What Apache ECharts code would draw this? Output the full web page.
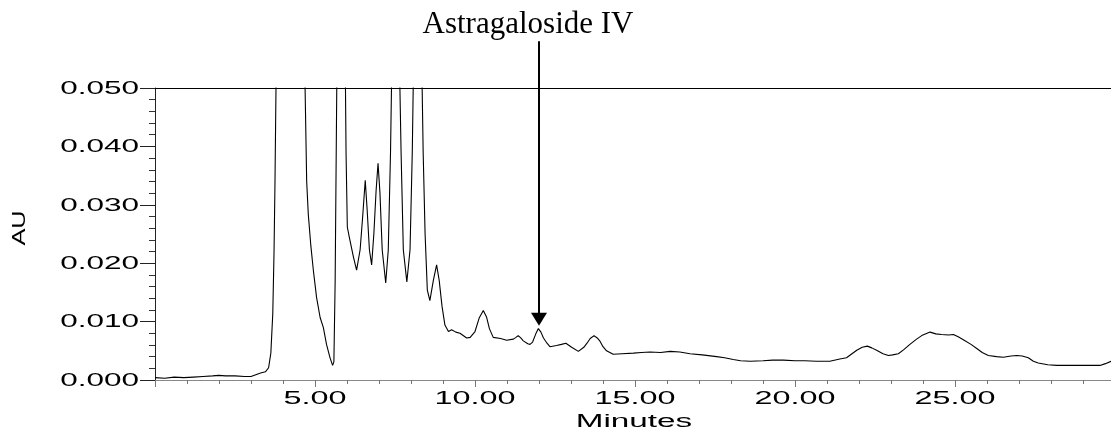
<!DOCTYPE html>
<html>
<head>
<meta charset="utf-8">
<script src="https://cdn.jsdelivr.net/npm/echarts@6/dist/echarts.min.js"></script>
<style>
html,body{margin:0;padding:0;background:#fff;}
#chart{width:1111px;height:435px;}
</style>
</head>
<body>
<div id="chart"></div>
<script>
// Retention time (minutes)
const times = [
0.00,0.30,0.60,0.90,1.20,1.50,1.80,2.00,2.20,2.50,2.80,3.00,3.15,3.30,3.45,3.55,3.62,3.68,3.72,3.75,3.78,3.85,4.20,4.60,
4.69,4.74,4.79,4.87,4.95,5.05,5.16,5.26,5.36,5.47,5.55,5.59,5.63,5.68,5.80,5.92,
5.97,6.01,6.07,6.20,6.30,6.41,6.49,6.57,6.63,6.70,6.77,6.84,6.91,6.97,7.03,7.10,7.21,7.29,7.36,7.50,7.62,
7.69,7.76,7.87,7.97,8.04,8.20,8.32,8.38,8.44,8.51,8.59,8.70,8.80,8.88,8.97,9.06,9.17,9.27,9.40,9.53,9.74,9.85,10.00,
10.13,10.26,10.36,10.45,10.57,10.80,10.99,11.20,11.28,11.35,11.43,11.51,11.65,11.72,11.80,11.90,11.98,12.06,12.14,12.25,12.34,12.55,12.70,12.84,13.02,13.23,13.40,13.50,13.60,13.72,13.82,13.91,14.00,
14.11,14.32,14.60,14.95,15.20,15.47,15.80,16.10,16.40,16.72,17.10,17.55,17.80,18.07,18.30,18.60,19.00,19.30,19.64,20.00,20.30,20.67,
21.09,21.40,21.61,21.93,22.10,22.26,22.40,22.55,22.75,22.92,23.05,23.23,23.40,23.59,23.80,23.96,24.22,24.40,24.58,24.80,24.95,
25.10,25.26,25.50,25.68,25.85,26.04,26.30,26.51,26.75,26.93,27.10,27.29,27.45,27.60,27.90,28.18,28.50,28.91,29.20,29.53,29.70,29.875
];
// Absorbance (AU)
const absorbance = [
0.0004,0.0003,0.0005,0.0004,0.0005,0.0006,0.0007,0.0008,0.0007,0.0007,0.0006,0.0006,0.0009,0.0012,0.0014,0.0021,0.0046,0.0113,0.0220,0.0340,0.0495,0.0900,0.1500,0.0900,
0.0500,0.0340,0.0284,0.0230,0.0187,0.0141,0.0107,0.0090,0.0061,0.0038,0.0025,0.0031,0.0170,0.0500,0.1200,0.0700,
0.0390,0.0262,0.0245,0.0211,0.0188,0.0223,0.0280,0.0342,0.0291,0.0223,0.0197,0.0251,0.0325,0.0371,0.0320,0.0223,0.0166,0.0223,0.0390,0.0900,0.0600,
0.0390,0.0223,0.0168,0.0223,0.0390,0.1000,0.0600,0.0390,0.0251,0.0154,0.0136,0.0171,0.0197,0.0171,0.0126,0.0094,0.0083,0.0086,0.0082,0.0080,0.0072,0.0073,0.0083,
0.0106,0.0119,0.0108,0.0088,0.0073,0.0071,0.0068,0.0070,0.0073,0.0076,0.0072,0.0067,0.0062,0.0061,0.0065,0.0079,0.0088,0.0082,0.0072,0.0063,0.0057,0.0059,0.0061,0.0063,0.0056,0.0049,0.0056,0.0063,0.0071,0.0076,0.0072,0.0066,0.0057,
0.0050,0.0044,0.0045,0.0046,0.0047,0.0048,0.0047,0.0049,0.0048,0.0045,0.0043,0.0040,0.0038,0.0035,0.0033,0.0032,0.0033,0.0034,0.0034,0.0033,0.0033,0.0032,
0.0032,0.0036,0.0038,0.0051,0.0056,0.0058,0.0055,0.0051,0.0045,0.0042,0.0043,0.0045,0.0052,0.0061,0.0070,0.0076,0.0082,0.0079,0.0078,0.0077,0.0078,
0.0074,0.0069,0.0061,0.0054,0.0047,0.0042,0.0040,0.0039,0.0041,0.0042,0.0041,0.0038,0.0032,0.0029,0.0026,0.0025,0.0025,0.0025,0.0025,0.0025,0.0028,0.0032
];
const xTickValues = [5, 10, 15, 20, 25];
const xTickLabels = ['5.00', '10.00', '15.00', '20.00', '25.00'];
const yTickValues = [0, 0.01, 0.02, 0.03, 0.04, 0.05];
const yTickLabels = ['0.000', '0.010', '0.020', '0.030', '0.040', '0.050'];
const xTitle = 'Minutes';
const yTitle = 'AU';
const annotationText = 'Astragaloside IV';
const annotationTime = 12.0;
const arrowTipValue = 0.0093;
const arrowHeadTopValue = 0.0115;
const arrowStartValue = 0.058;

const series = times.map((t, i) => [t, absorbance[i]]);

const chart = echarts.init(document.getElementById('chart'), null, {renderer: 'canvas'});
chart.setOption({
  animation: false,
  backgroundColor: '#ffffff',
  grid: {left: 155, right: 0, top: 88, bottom: 55, containLabel: false},
  xAxis: [{
    type: 'value', min: 0, max: 29.875, interval: 5,
    axisLine: {show: true, lineStyle: {color: '#888888', width: 1}},
    axisTick: {show: true, inside: false, length: 7, lineStyle: {color: '#777777'}},
    minorTick: {show: true, splitNumber: 5, length: 4, lineStyle: {color: '#777777'}},
    axisLabel: {show: false},
    splitLine: {show: false}
  }, {
    type: 'value', position: 'top', min: 0, max: 29.875,
    axisLine: {show: true, lineStyle: {color: '#000000', width: 1}},
    axisTick: {show: false}, axisLabel: {show: false}, splitLine: {show: false}
  }],
  yAxis: {
    type: 'value', min: 0, max: 0.05, interval: 0.01,
    axisLine: {show: true, lineStyle: {color: '#222222', width: 1}},
    axisTick: {show: true, inside: false, length: 15, lineStyle: {color: '#222222'}},
    minorTick: {show: true, splitNumber: 5, length: 6, lineStyle: {color: '#333333'}},
    axisLabel: {show: false},
    splitLine: {show: false}
  },
  series: [{
    type: 'line', data: series, symbol: 'none', clip: true,
    lineStyle: {color: '#000000', width: 1.1},
    xAxisIndex: 0, yAxisIndex: 0
  }]
});

const P = (x, y) => chart.convertToPixel({gridIndex: 0}, [x, y]);
const FONT_SANS = '"Liberation Sans", Arial, sans-serif';
const graphics = [];
xTickValues.forEach((v, i) => {
  const p = P(v, 0);
  graphics.push({type: 'text', x: p[0], y: 399, scaleX: 1.85, silent: true,
    style: {text: xTickLabels[i], fontSize: 17.5, fontFamily: FONT_SANS, fill: '#000',
      align: 'center', verticalAlign: 'middle', textAlign: 'center', textVerticalAlign: 'middle'}});
});
yTickValues.forEach((v, i) => {
  const p = P(0, v);
  graphics.push({type: 'text', x: 139, y: p[1] + 1, scaleX: 1.8, silent: true,
    style: {text: yTickLabels[i], fontSize: 17.5, fontFamily: FONT_SANS, fill: '#000',
      align: 'right', verticalAlign: 'middle', textAlign: 'right', textVerticalAlign: 'middle'}});
});
graphics.push({type: 'text', x: 634, y: 422, scaleX: 1.9, silent: true,
  style: {text: xTitle, fontSize: 17.5, fontFamily: FONT_SANS, fill: '#000',
    align: 'center', verticalAlign: 'middle', textAlign: 'center', textVerticalAlign: 'middle'}});
graphics.push({type: 'text', x: 20, y: 228, rotation: Math.PI / 2, scaleX: 1.45, silent: true,
  style: {text: yTitle, fontSize: 17.5, fontFamily: FONT_SANS, fill: '#000',
    align: 'center', verticalAlign: 'middle', textAlign: 'center', textVerticalAlign: 'middle'}});

const tip = P(annotationTime, arrowTipValue);
const headTop = P(annotationTime, arrowHeadTopValue);
const start = P(annotationTime, arrowStartValue);
graphics.push({type: 'text', x: tip[0] - 11, y: 25, silent: true,
  style: {text: annotationText, fontSize: 31, fontFamily: '"Liberation Serif", "Times New Roman", serif', fill: '#000',
    align: 'center', verticalAlign: 'middle', textAlign: 'center', textVerticalAlign: 'middle'}});
graphics.push({type: 'line', silent: true,
  shape: {x1: tip[0], y1: start[1], x2: tip[0], y2: headTop[1] + 1},
  style: {stroke: '#000', lineWidth: 2}});
graphics.push({type: 'polygon', silent: true,
  shape: {points: [[tip[0] - 8, headTop[1]], [tip[0] + 8, headTop[1]], [tip[0], tip[1]]]},
  style: {fill: '#000'}});
chart.setOption({graphic: graphics});
</script>
</body>
</html>
